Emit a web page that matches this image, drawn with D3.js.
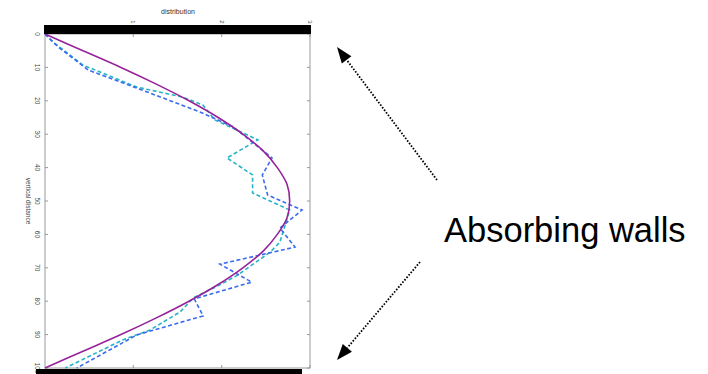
<!DOCTYPE html>
<html>
<head>
<meta charset="utf-8">
<script src="https://cdn.jsdelivr.net/npm/d3@7"></script>
<style>
  html, body { margin: 0; padding: 0; background: #fff; }
  svg { display: block; }
</style>
</head>
<body>
<svg id="chart" width="708" height="374"></svg>
<script>
// Depth across the channel (0 = top wall, 100 = bottom wall)
const depthTicks = [0, 10, 20, 30, 40, 50, 60, 70, 80, 90, 100];
const distTicks = [1, 2, 3];
const distTickLabels = ["1", "2", "3"];

// Analytic profile, sampled every 5 units of depth
const theoryDepth = [0, 5, 10, 15, 20, 25, 30, 35, 40, 45, 50, 55, 60, 65, 70, 75, 80, 85, 90, 95, 100];
const theoryValue = [0, 0.43, 0.86, 1.26, 1.63, 1.96, 2.24, 2.47, 2.63, 2.74, 2.77, 2.74, 2.63, 2.47, 2.24, 1.96, 1.63, 1.26, 0.86, 0.43, 0];

// First simulated histogram (cyan)
const runADepth = [0, 2.4, 9.3, 15.9, 18.9, 21.3, 25.7, 31.7, 37.1, 42.2, 47.6, 52.7, 62.3, 65.3, 72.2, 75.1, 79.0, 83.2, 88.6, 91.6, 100];
const runAValue = [0, 0.09, 0.43, 1.04, 1.56, 1.79, 1.92, 2.41, 2.06, 2.35, 2.35, 2.77, 2.66, 2.55, 2.18, 1.98, 1.68, 1.53, 1.19, 0.88, 0.23];

// Second simulated histogram (blue)
const runBDepth = [0, 3.9, 10.8, 16.2, 23.4, 27.8, 37.1, 42.2, 48.2, 52.7, 58.1, 63.8, 68.9, 74.3, 79.3, 84.4, 90.1, 100];
const runBValue = [0, 0.15, 0.49, 1.04, 1.76, 2.13, 2.57, 2.46, 2.52, 2.91, 2.66, 2.83, 1.98, 2.34, 1.69, 1.79, 1.04, 0.36];

const svg = d3.select("#chart");

const plotL = 45, plotR = 310, plotT = 34, plotB = 368;
const x = d3.scaleLinear().domain([0, 3]).range([plotL, plotR]);
const y = d3.scaleLinear().domain([0, 100]).range([plotT, plotB]);

const axisGrey = "#9a9a9a";
const textGrey = "#444";
const font = "Liberation Sans, Arial, sans-serif";

// Box frame
svg.append("rect")
  .attr("x", plotL).attr("y", plotT)
  .attr("width", plotR - plotL).attr("height", plotB - plotT)
  .attr("fill", "none").attr("stroke", axisGrey).attr("stroke-width", 1);

// Depth ticks on both sides, pointing inward
const yTickG = svg.append("g");
yTickG.selectAll("line.l").data(depthTicks).join("line")
  .attr("class", "l")
  .attr("x1", plotL).attr("x2", plotL + 3)
  .attr("y1", d => y(d)).attr("y2", d => y(d))
  .attr("stroke", axisGrey);
yTickG.selectAll("line.r").data(depthTicks).join("line")
  .attr("class", "r")
  .attr("x1", plotR - 3).attr("x2", plotR)
  .attr("y1", d => y(d)).attr("y2", d => y(d))
  .attr("stroke", axisGrey);

// Depth tick labels, rotated with the figure
yTickG.selectAll("text").data(depthTicks).join("text")
  .attr("transform", d => `translate(${plotL - 8},${y(d)}) rotate(90)`)
  .attr("text-anchor", "middle")
  .attr("dy", "0.35em")
  .attr("font-family", font)
  .attr("font-size", 6.5)
  .attr("fill", textGrey)
  .text(d => d);

// Distribution ticks on top and bottom
const xTickG = svg.append("g");
xTickG.selectAll("line.t").data(distTicks).join("line")
  .attr("class", "t")
  .attr("x1", d => x(d)).attr("x2", d => x(d))
  .attr("y1", plotT).attr("y2", plotT + 3)
  .attr("stroke", axisGrey);
xTickG.selectAll("line.b").data(distTicks).join("line")
  .attr("class", "b")
  .attr("x1", d => x(d)).attr("x2", d => x(d))
  .attr("y1", plotB - 3).attr("y2", plotB)
  .attr("stroke", axisGrey);
xTickG.selectAll("text").data(distTicks).join("text")
  .attr("transform", d => `translate(${x(d)},${plotT - 12}) rotate(90)`)
  .attr("text-anchor", "middle")
  .attr("dy", "0.35em")
  .attr("font-family", font)
  .attr("font-size", 6)
  .attr("fill", textGrey)
  .text((d, i) => distTickLabels[i]);

// Title and depth label
svg.append("text")
  .attr("x", 178).attr("y", 14)
  .attr("text-anchor", "middle")
  .attr("font-family", font)
  .attr("font-size", 7)
  .attr("fill", "#333")
  .text("distribution");

svg.append("text")
  .attr("transform", `translate(28,${y(50)}) rotate(90)`)
  .attr("text-anchor", "middle")
  .attr("dy", "0.35em")
  .attr("font-family", font)
  .attr("font-size", 6.5)
  .attr("fill", textGrey)
  .text("vertical distance");

// Profiles
const line = d3.line()
  .x(d => x(d[1]))
  .y(d => y(d[0]));

svg.append("path")
  .datum(runADepth.map((d, i) => [d, runAValue[i]]))
  .attr("fill", "none")
  .attr("stroke", "#27b3c6")
  .attr("stroke-width", 1.6)
  .attr("stroke-dasharray", "4,2.5")
  .attr("d", line);

svg.append("path")
  .datum(runBDepth.map((d, i) => [d, runBValue[i]]))
  .attr("fill", "none")
  .attr("stroke", "#3b6cf0")
  .attr("stroke-width", 1.6)
  .attr("stroke-dasharray", "4,2.5")
  .attr("d", line);

svg.append("path")
  .datum(theoryDepth.map((d, i) => [d, theoryValue[i]]))
  .attr("fill", "none")
  .attr("stroke", "#962399")
  .attr("stroke-width", 1.6)
  .attr("d", line.curve(d3.curveCatmullRom));

// Absorbing walls drawn as thick black bars
svg.append("rect")
  .attr("x", 44).attr("y", 25)
  .attr("width", 267).attr("height", 9)
  .attr("fill", "#000");
svg.append("rect")
  .attr("x", 36).attr("y", 369)
  .attr("width", 266).attr("height", 8)
  .attr("fill", "#000");

// Annotation arrows: dotted shaft with a solid triangular head
function arrow(x1, y1, x2, y2) {
  const ang = Math.atan2(y2 - y1, x2 - x1);
  const L = 16;
  const bx = x2 - L * Math.cos(ang), by = y2 - L * Math.sin(ang);
  svg.append("line")
    .attr("x1", x1).attr("y1", y1).attr("x2", bx).attr("y2", by)
    .attr("stroke", "#000").attr("stroke-width", 1.8)
    .attr("stroke-dasharray", "1.6,1.6");
  const px = -Math.sin(ang), py = Math.cos(ang);
  svg.append("path")
    .attr("d", `M${x2},${y2} L${bx + px * 6},${by + py * 6} L${bx - px * 6},${by - py * 6} Z`)
    .attr("fill", "#000");
}
arrow(437, 180, 337, 47);
arrow(420, 262, 337, 360);

svg.append("text")
  .attr("x", 444).attr("y", 242)
  .attr("font-family", font)
  .attr("font-size", 34.5)
  .attr("fill", "#000")
  .text("Absorbing walls");
</script>
</body>
</html>
